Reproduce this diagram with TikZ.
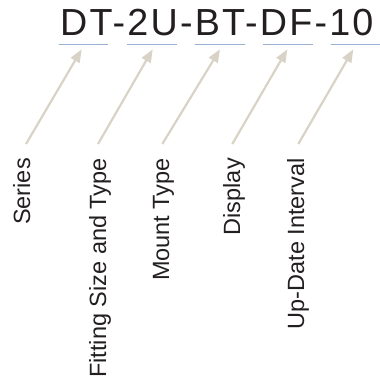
\documentclass[tikz,border=0pt]{standalone}
\usepackage{fontspec}
\setmainfont{Liberation Sans}
\usetikzlibrary{arrows.meta}
\definecolor{txt}{HTML}{231F20}
\definecolor{uln}{HTML}{9AAFD4}
\definecolor{arc}{HTML}{D9D3C7}
\begin{document}
\begin{tikzpicture}[x=1pt,y=-1pt,
  uline/.style={draw=uln,line width=1.6pt},
  arr/.style={draw=arc,line width=2.2pt,-{Triangle[length=13pt,width=10pt]}},
  lbl/.style={rotate=90,anchor=base east,inner sep=0pt,text=txt,font=\fontsize{23.5}{28}\selectfont},
  ttl/.style={anchor=base west,inner sep=0pt,text=txt,font=\fontsize{37.7}{40}\selectfont\addfontfeature{LetterSpace=5.8}}]
\useasboundingbox (0,0) rectangle (380,383);
\node[ttl] (title) at (60,35) {DT-2U-BT-DF-10};
% underline segments
\foreach \i/\a/\b in {1/59/108,2/127/177,3/195/245,4/263/313,5/331/380}{
  \coordinate (ua\i) at (\a,44.5);
  \coordinate (ub\i) at (\b,44.5);
  \draw[uline] (ua\i) -- (ub\i);
}
% labels
\node[lbl] (l1) at (30,158) {Series};
\node[lbl] (l2) at (106,158) {Fitting Size and Type};
\node[lbl] (l3) at (169,158) {Mount Type};
\node[lbl] (l4) at (240,158) {Display};
\node[lbl] (l5) at (304,158) {Up-Date Interval};
% arrows
\foreach \i/\tx/\hx in {1/26/81.7,2/98/152.7,3/162.3/220,4/232.3/287.3,5/298.3/353.3}{
  \coordinate (t\i) at (\tx,144);
  \coordinate (h\i) at (\hx,49.3);
  \draw[arr] (t\i) -- (h\i);
}
\end{tikzpicture}
\end{document}
